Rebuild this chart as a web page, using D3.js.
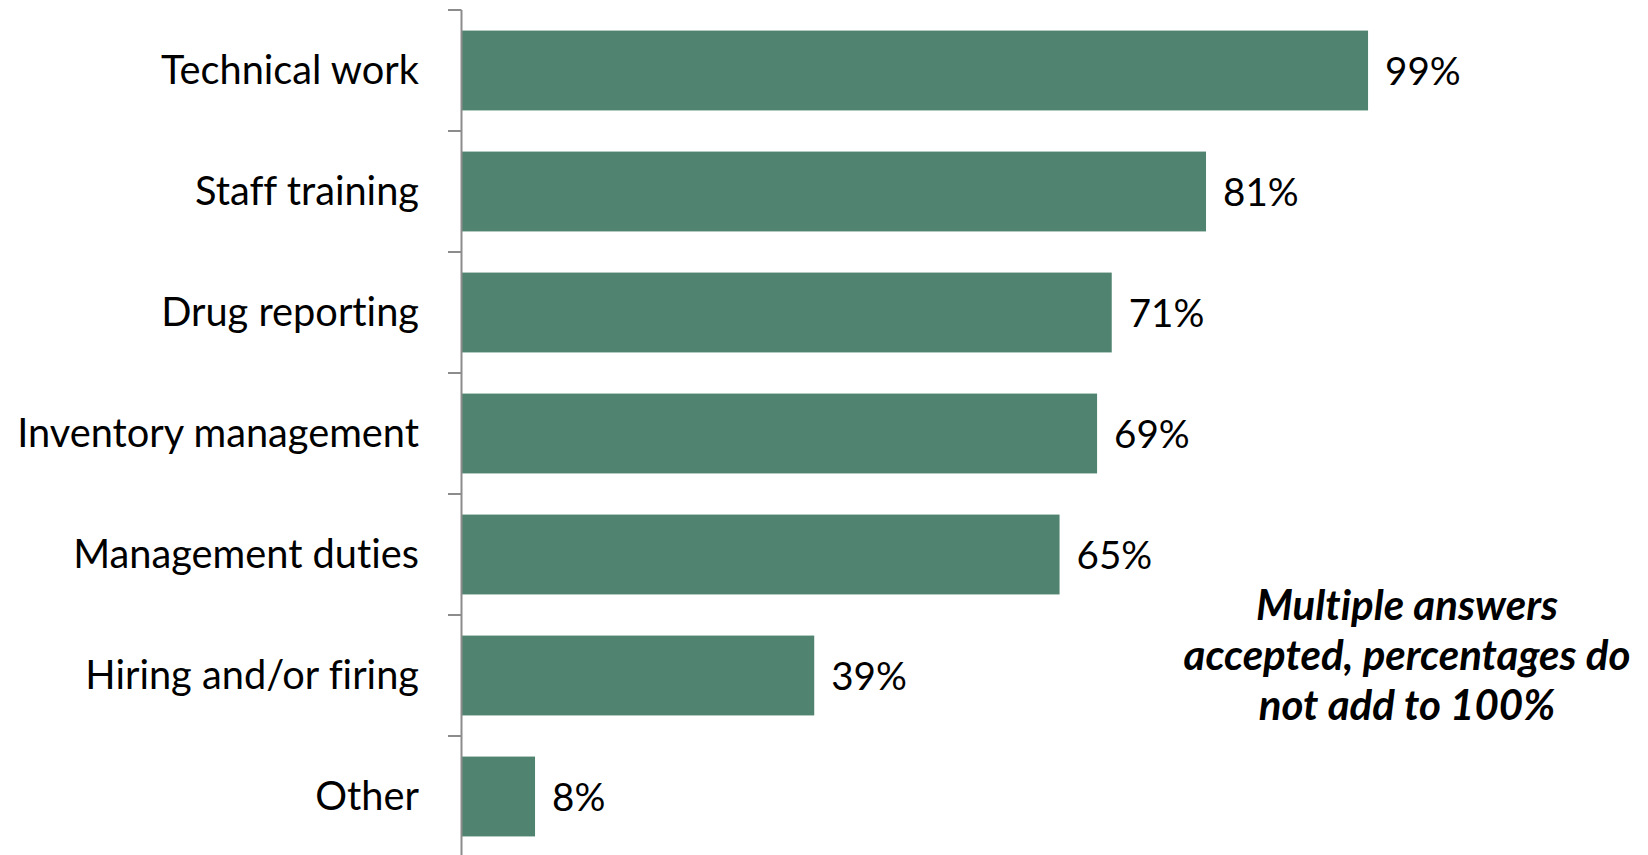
<!DOCTYPE html>
<html><head><meta charset="utf-8">
<script src="https://cdn.jsdelivr.net/npm/d3@7"></script>
<style>html,body{margin:0;padding:0;background:#fff;}svg{display:block;}text{font-variant-ligatures:none;font-feature-settings:"liga" 0,"clig" 0;}</style>
</head><body>
<svg id="chart" width="1648" height="855"></svg>
<script>
const categories = ["Technical work","Staff training","Drug reporting","Inventory management","Management duties","Hiring and/or firing","Other"];
const values = [99, 81.3, 71, 69.4, 65.3, 38.5, 8];
const noteLines = ["Multiple answers","accepted, percentages do","not add to 100%"];

const W = 1648, H = 855;
const svg = d3.select("#chart");
const FONT = "Lato, 'Open Sans', sans-serif";
const barColor = "#508470";
const axisColor = "#8c8c8c";

const x = d3.scaleLinear().domain([0, 100]).range([461.8, 1377.2]);
const y = d3.scaleBand().domain(categories).range([10, 857]).paddingInner(0.34).paddingOuter(0.17);

function fitSize(text, target, weight, style) {
  const t = svg.append("text").attr("font-family", FONT).attr("font-size", 100)
    .attr("font-weight", weight || "normal").attr("font-style", style || "normal").text(text);
  const w = t.node().getComputedTextLength();
  t.remove();
  return 100 * target / w;
}
const fs = fitSize("Inventory management", 402);
const fsVal = fs * 0.97;
const fsNote = fitSize("accepted, percentages do", 447, "bold", "italic");

// bars
svg.append("g").selectAll("rect").data(categories).join("rect")
  .attr("x", x(0))
  .attr("y", d => y(d))
  .attr("width", (d, i) => x(values[i]) - x(0))
  .attr("height", y.bandwidth())
  .attr("fill", barColor);

// axis
const step = y.step();
const ticks = d3.range(categories.length + 1).map(i => 10 + i * step);
const ax = svg.append("g");
ax.append("line").attr("x1", 461.5).attr("x2", 461.5).attr("y1", 10).attr("y2", H)
  .attr("stroke", axisColor).attr("stroke-width", 2);
ax.selectAll("line.tick").data(ticks).join("line").attr("class", "tick")
  .attr("x1", 448).attr("x2", 461.5).attr("y1", d => d).attr("y2", d => d)
  .attr("stroke", axisColor).attr("stroke-width", 2);

// category labels
svg.append("g").selectAll("text").data(categories).join("text")
  .attr("x", 419)
  .attr("y", d => y(d) + y.bandwidth() / 2 + 13)
  .attr("text-anchor", "end")
  .attr("font-family", FONT).attr("font-size", fs).attr("fill", "#000")
  .text(d => d);

// value labels
svg.append("g").selectAll("text").data(categories).join("text")
  .attr("x", (d, i) => x(values[i]) + 17)
  .attr("y", d => y(d) + y.bandwidth() / 2 + 14)
  .attr("font-family", FONT).attr("font-size", fsVal).attr("fill", "#000")
  .text((d, i) => Math.round(values[i]) + "%");

// note
svg.append("g").selectAll("text").data(noteLines).join("text")
  .attr("x", 1407).attr("y", (d, i) => 620 + i * 50)
  .attr("text-anchor", "middle")
  .attr("font-family", FONT).attr("font-size", fsNote)
  .attr("font-weight", "bold").attr("font-style", "italic").attr("fill", "#000")
  .text(d => d);
</script>
</body></html>
